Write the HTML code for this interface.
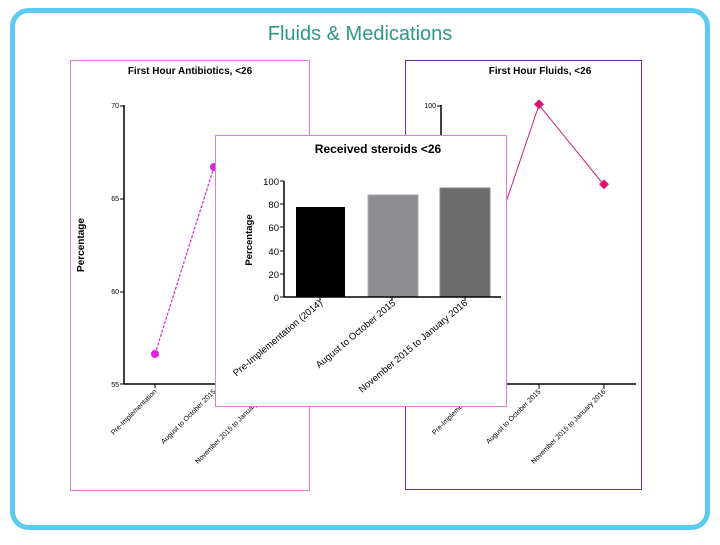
<!DOCTYPE html>
<html><head><style>
body{margin:0;width:720px;height:540px;background:#fff;overflow:hidden;font-family:"Liberation Sans",sans-serif}
</style></head><body>
<svg width="720" height="540" xmlns="http://www.w3.org/2000/svg" font-family="Liberation Sans, sans-serif">
<rect x="12.5" y="10.5" width="695" height="517" rx="16" fill="#fff" stroke="#5ccbf2" stroke-width="5"/>
<text x="360" y="40" text-anchor="middle" font-size="20" fill="#2b9985" font-family="Liberation Sans, sans-serif">Fluids &amp; Medications</text>

<!-- left panel -->
<rect x="70.5" y="60.5" width="239" height="430" fill="#fff" stroke="#e07ae0"/>
<text x="190" y="74" text-anchor="middle" font-size="10" font-weight="bold">First Hour Antibiotics, &lt;26</text>
<line x1="124" y1="105" x2="124" y2="384" stroke="#000" stroke-width="1.5"/>
<line x1="124" y1="384" x2="215" y2="384" stroke="#000" stroke-width="1.5"/>
<g stroke="#000"><line x1="120" y1="106" x2="124" y2="106"/><line x1="120" y1="199" x2="124" y2="199"/><line x1="120" y1="292" x2="124" y2="292"/><line x1="120" y1="384" x2="124" y2="384"/><line x1="155" y1="384" x2="155" y2="388"/></g>
<g font-size="7" text-anchor="end"><text x="119" y="108">70</text><text x="119" y="201">65</text><text x="119" y="294">60</text><text x="119" y="387">55</text></g>
<text transform="translate(84,245) rotate(-90)" text-anchor="middle" font-size="10" font-weight="bold">Percentage</text>
<line x1="155" y1="354" x2="214" y2="167" stroke="#e020e0" stroke-dasharray="3,1.5" stroke-width="1.2"/>
<circle cx="155" cy="354" r="4" fill="#e020e0"/><circle cx="214" cy="167" r="4" fill="#e020e0"/>
<g font-size="7"><text transform="translate(157,392) rotate(-45)" text-anchor="end">Pre-Implementation</text>
<text transform="translate(216,392) rotate(-45)" text-anchor="end">August to October 2015</text>
<text transform="translate(270,392) rotate(-45)" text-anchor="end">November 2015 to January 2016</text></g>

<!-- right panel -->
<rect x="405.5" y="60.5" width="236" height="429" fill="#fff" stroke="#7030a0"/>
<text x="540" y="74" text-anchor="middle" font-size="10" font-weight="bold">First Hour Fluids, &lt;26</text>
<line x1="441" y1="105" x2="441" y2="384" stroke="#000" stroke-width="1.5"/>
<line x1="437" y1="106" x2="441" y2="106" stroke="#000"/>
<text x="436" y="108" font-size="7" text-anchor="end">100</text>
<line x1="441" y1="384" x2="636" y2="384" stroke="#000" stroke-width="1.5"/>
<g stroke="#000"><line x1="539" y1="384" x2="539" y2="389"/><line x1="604" y1="384" x2="604" y2="389"/></g>
<polyline points="500,220 539,105 604,185" fill="none" stroke="#d8207a" stroke-width="1"/>
<rect x="535" y="101" width="7" height="7" fill="#e0106e" transform="rotate(45 539 105)"/>
<rect x="600" y="181" width="7" height="7" fill="#e0106e" transform="rotate(45 604 185)"/>
<g font-size="7"><text transform="translate(478,392) rotate(-45)" text-anchor="end">Pre-Implementation</text>
<text transform="translate(541,392) rotate(-45)" text-anchor="end">August to October 2015</text>
<text transform="translate(606,392) rotate(-45)" text-anchor="end">November 2015 to January 2016</text></g>

<!-- middle panel -->
<rect x="215.5" y="135.5" width="291" height="271" fill="#fff" stroke="#e07ae0"/>
<text x="378" y="153" text-anchor="middle" font-size="12" font-weight="bold">Received steroids &lt;26</text>
<rect x="296" y="207" width="49" height="90" fill="#000"/>
<rect x="368" y="195" width="50" height="102" fill="#8e8e92" stroke="#a8a8a8"/>
<rect x="440" y="188" width="50" height="109" fill="#6c6c6c" stroke="#888"/>
<line x1="284" y1="181" x2="284" y2="297" stroke="#000" stroke-width="1.5"/>
<line x1="284" y1="297" x2="501" y2="297" stroke="#000" stroke-width="1.5"/>
<g stroke="#000"><line x1="280" y1="181" x2="284" y2="181"/><line x1="280" y1="204" x2="284" y2="204"/><line x1="280" y1="227" x2="284" y2="227"/><line x1="280" y1="251" x2="284" y2="251"/><line x1="280" y1="274" x2="284" y2="274"/><line x1="280" y1="297" x2="284" y2="297"/>
<line x1="320" y1="297" x2="320" y2="301"/><line x1="392" y1="297" x2="392" y2="301"/><line x1="465" y1="297" x2="465" y2="301"/></g>
<g font-size="9.5" text-anchor="end"><text x="279" y="185">100</text><text x="279" y="208">80</text><text x="279" y="231">60</text><text x="279" y="255">40</text><text x="279" y="278">20</text><text x="279" y="301">0</text></g>
<text transform="translate(252,240) rotate(-90)" text-anchor="middle" font-size="9.5" font-weight="bold">Percentage</text>
<g font-size="9.5"><text transform="translate(323,304) rotate(-40)" text-anchor="end">Pre-Implementation (2014)</text>
<text transform="translate(396,304) rotate(-40)" text-anchor="end">August to October 2015</text>
<text transform="translate(468,304) rotate(-40)" text-anchor="end">November 2015 to January 2016</text></g>
</svg>
</body></html>
